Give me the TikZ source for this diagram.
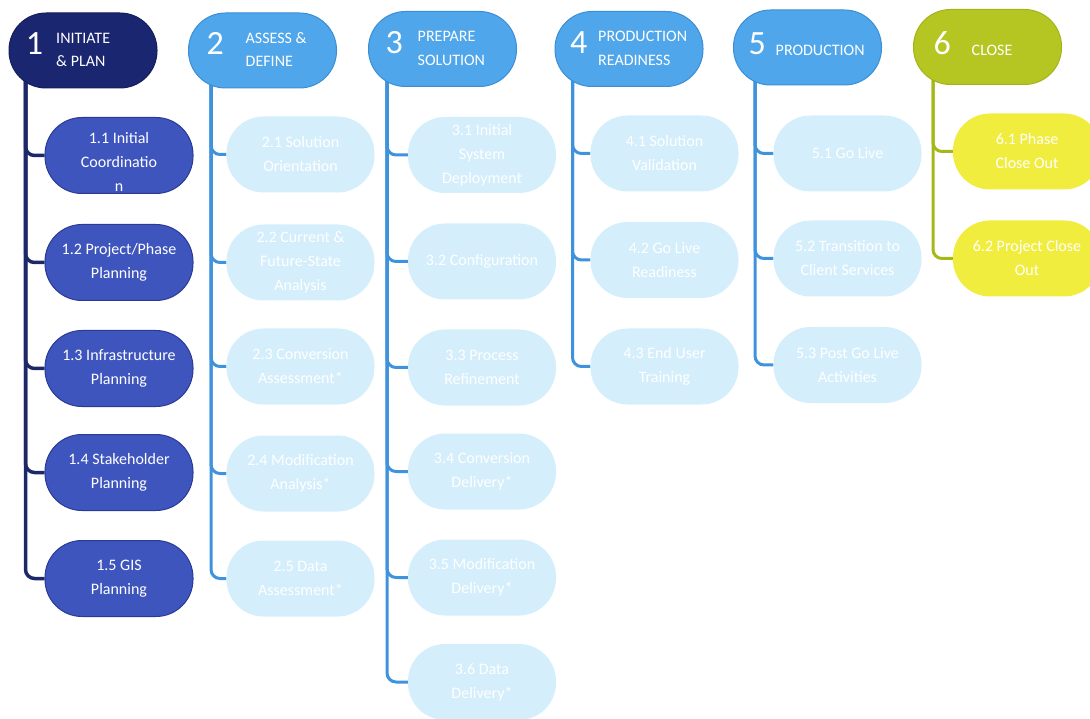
\documentclass[tikz,border=0pt]{standalone}
\usepackage{fontspec}
\setmainfont{Carlito}
\usetikzlibrary{calc,backgrounds}
\definecolor{navy}{HTML}{1B2670}
\definecolor{navyline}{HTML}{1D2868}
\definecolor{kidone}{HTML}{3E55BE}
\definecolor{kidoneb}{HTML}{2A3A95}
\definecolor{hblue}{HTML}{4FA6EA}
\definecolor{hblueb}{HTML}{3B8ED6}
\definecolor{lblue}{HTML}{3F92DC}
\definecolor{faint}{HTML}{D4EEFB}
\definecolor{hgreen}{HTML}{B5C623}
\definecolor{hgreenb}{HTML}{A3B41A}
\definecolor{lgreen}{HTML}{A6B71A}
\definecolor{kyellow}{HTML}{F1ED3E}
% header content: left gap, number, gap, label
\newcommand{\hcont}[4]{\makebox[148pt][l]{\hspace{#1}{\fontsize{34}{34}\selectfont #2}\hspace{#3}{\fontsize{16}{23.5}\selectfont\begin{tabular}{@{}l@{}}#4\end{tabular}}}}
\tikzset{
  hdr/.style={rectangle, rounded corners=37pt, minimum width=148pt, minimum height=75pt, inner sep=0pt, text=white, line width=1pt},
  kid/.style={rectangle, rounded corners=37pt, minimum width=148pt, minimum height=76pt, inner sep=0pt, align=center, text=white, font=\fontsize{16}{24}\selectfont},
  kidA/.style={kid, fill=kidone, draw=kidoneb, line width=1pt},
  kidB/.style={kid, fill=faint},
  kidC/.style={kid, fill=kyellow},
  hA/.style={hdr, fill=navy, draw=navy!80!black},
  hB/.style={hdr, fill=hblue, draw=hblueb},
  hC/.style={hdr, fill=hgreen, draw=hgreenb},
  conn/.style={rounded corners=9pt, line width=3pt},
}
\begin{document}
\begin{tikzpicture}[x=1pt,y=-1pt]
\useasboundingbox (0,0) rectangle (1090,719);
% headers
\node[hA] (h1) at (83,50.5) {\hcont{17pt}{1}{13pt}{INITIATE\\\& PLAN}};
\node[hB] (h2) at (262.5,50.5) {\hcont{18pt}{2}{22pt}{ASSESS \&\\DEFINE}};
\node[hB] (h3) at (442.5,49) {\hcont{17pt}{3}{15pt}{PREPARE\\SOLUTION}};
\node[hB] (h4) at (629,49) {\hcont{15pt}{4}{11pt}{PRODUCTION\\READINESS}};
\node[hB] (h5) at (807.5,47.5) {\hcont{15pt}{5}{10pt}{PRODUCTION}};
\node[hC] (h6) at (987.5,47) {\hcont{20pt}{6}{21pt}{CLOSE}};
% column 1
\node[kidA] (c11) at (119,155.5) {\raisebox{-24pt}{\smash{\begin{tabular}{@{}c@{}}1.1 Initial\\Coordinatio\\n\end{tabular}}}};
\node[kidA] (c12) at (119,262.5) {1.2 Project/Phase\\Planning};
\node[kidA] (c13) at (119,368.5) {1.3 Infrastructure\\Planning};
\node[kidA] (c14) at (119,472.5) {1.4 Stakeholder\\Planning};
\node[kidA] (c15) at (119,578.5) {1.5 GIS\\Planning};
% column 2
\node[kidB] (c21) at (300.5,154.5) {2.1 Solution\\Orientation};
\node[kidB] (c22) at (300.5,262.5) {2.2 Current \&\\Future-State\\Analysis};
\node[kidB] (c23) at (300.5,366.5) {2.3 Conversion\\Assessment*};
\node[kidB] (c24) at (300.5,473.5) {2.4 Modification\\Analysis*};
\node[kidB] (c25) at (300.5,578.5) {2.5 Data\\Assessment*};
% column 3
\node[kidB] (c31) at (482,155) {3.1 Initial\\System\\Deployment};
\node[kidB] (c32) at (482,261.5) {3.2 Configuration};
\node[kidB] (c33) at (482,367.5) {3.3 Process\\Refinement};
\node[kidB] (c34) at (482,471.5) {3.4 Conversion\\Delivery*};
\node[kidB] (c35) at (482,577.5) {3.5 Modification\\Delivery*};
\node[kidB] (c36) at (482,682) {3.6 Data\\Delivery*};
% column 4
\node[kidB] (c41) at (664.5,153.5) {4.1 Solution\\Validation};
\node[kidB] (c42) at (664.5,260) {4.2 Go Live\\Readiness};
\node[kidB] (c43) at (664.5,366.5) {4.3 End User\\Training};
% column 5
\node[kidB] (c51) at (847.5,153.5) {5.1 Go Live};
\node[kidB] (c52) at (847.5,258.5) {5.2 Transition to\\Client Services};
\node[kidB] (c53) at (847.5,365) {5.3 Post Go Live\\Activities};
% column 6
\node[kidC] (c61) at (1027,151.5) {6.1 Phase\\Close Out};
\node[kidC] (c62) at (1027,258.5) {6.2 Project Close\\Out};
% connectors
\begin{scope}[on background layer]
\foreach \k in {1,...,5}{\draw[conn, draw=navyline, line width=3.5pt] ($(h1.south west)+(17,-10)$) |- (c1\k.west);}
\foreach \k in {1,...,5}{\draw[conn, draw=lblue] ($(h2.south west)+(23,-10)$) |- (c2\k.west);}
\foreach \k in {1,...,6}{\draw[conn, draw=lblue] ($(h3.south west)+(19,-10)$) |- (c3\k.west);}
\foreach \k in {1,...,3}{\draw[conn, draw=lblue] ($(h4.south west)+(18,-10)$) |- (c4\k.west);}
\foreach \k in {1,...,3}{\draw[conn, draw=lblue] ($(h5.south west)+(22,-10)$) |- (c5\k.west);}
\foreach \k in {1,2}{\draw[conn, draw=lgreen] ($(h6.south west)+(20,-10)$) |- (c6\k.west);}
\end{scope}
\end{tikzpicture}
\end{document}
